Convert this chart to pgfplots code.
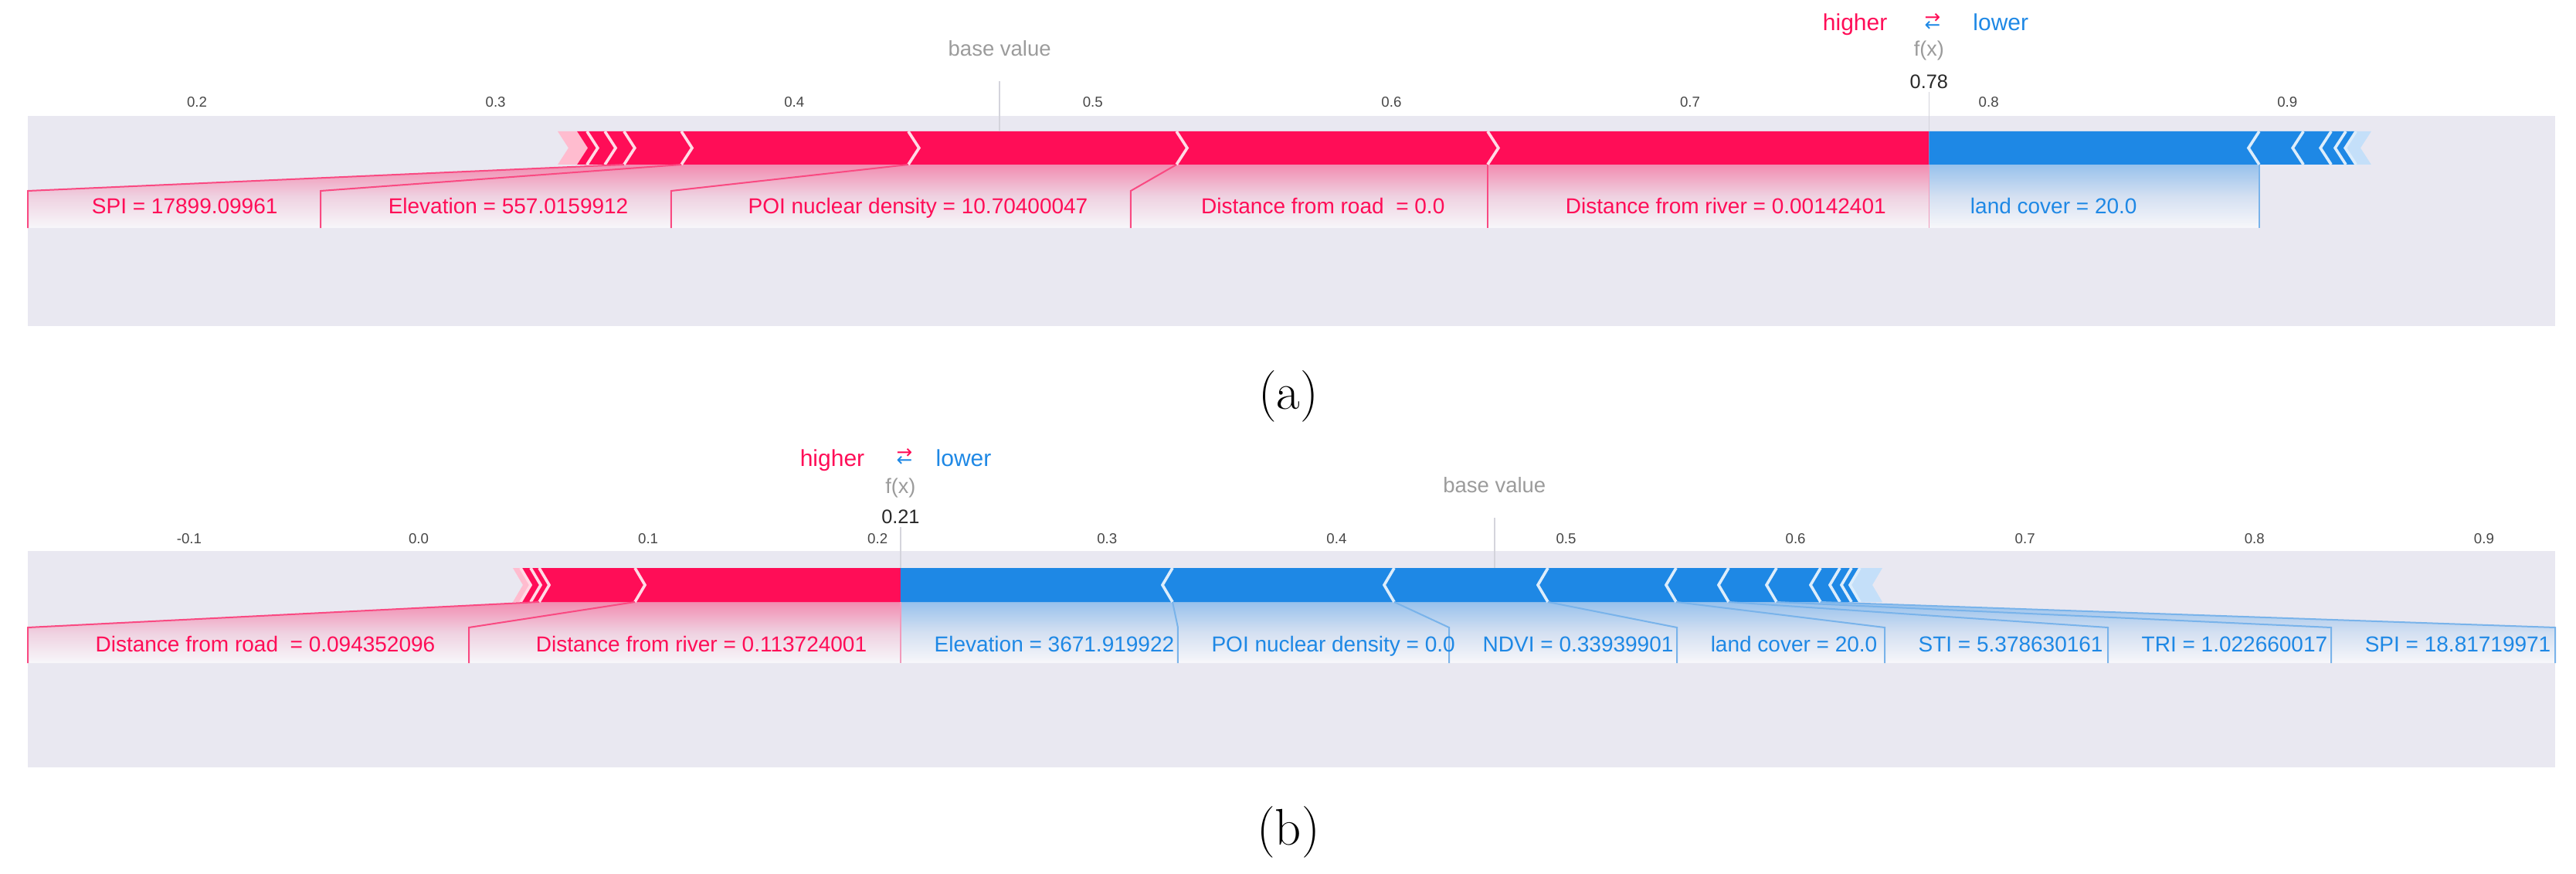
\documentclass[border=0pt]{standalone}
\usepackage{fontspec}
\setsansfont{Liberation Sans}
\newfontfamily\djv{DejaVu Sans}
\usepackage{pgfplots}
\pgfplotsset{compat=1.18}

\definecolor{shapred}{RGB}{255,13,87}
\definecolor{shapblue}{RGB}{30,136,229}
\definecolor{bggrey}{RGB}{233,232,241}
\definecolor{lightpink}{RGB}{255,188,207}
\definecolor{lightblue}{RGB}{196,223,249}
\definecolor{tickgrey}{RGB}{70,70,70}
\definecolor{textgrey}{RGB}{155,155,155}
\definecolor{linegrey}{RGB}{212,212,220}
\definecolor{valgrey}{RGB}{40,40,40}

\newcommand\lab{\sffamily\fontsize{8.4}{10}\selectfont}
\newcommand\arrows{{\djv\fontsize{7.4}{7.4}\selectfont\raisebox{1.5pt}{\color{shapred}→}\llap{\raisebox{-1.5pt}{\color{shapblue}←}}}}

\pgfplotsset{
  forcebase/.style={
    scale only axis, clip=false, y dir=reverse,
    width=981.6pt,
    axis background/.style={fill=bggrey},
    axis line style={draw=none},
    major tick style={draw=none},
    ytick=\empty,
    xticklabel pos=upper,
    xticklabel style={font=\sffamily\fontsize{5.6}{6}\selectfont, text=tickgrey, anchor=base, inner sep=0pt},
  },
  redlab/.style={draw=none, top color=shapred!42!bggrey, bottom color=bggrey!35!white, middle color=shapred!14!bggrey!85!white},
  bluelab/.style={draw=none, top color=shapblue!40!bggrey, bottom color=bggrey!35!white, middle color=shapblue!14!bggrey!85!white},
  redline/.style={shapred!72!bggrey, line width=0.6pt},
  blueline/.style={shapblue!55!bggrey, line width=0.6pt},
  redwhite/.style={white!85!shapred, line width=1.1pt, unbounded coords=jump},
  bluewhite/.style={white!85!shapblue, line width=1.1pt, unbounded coords=jump},
}

\begin{document}
\begin{tikzpicture}
\useasboundingbox (0,0) rectangle (1000.5pt,-339.3pt);

%================ (a) ================
\begin{axis}[forcebase,
  at={(10.8pt,-126.6pt)}, anchor=south west,
  height=81.6pt,
  xmin=0.14335, xmax=0.98970, ymin=150, ymax=422,
  xtick={0.2,0.3,0.4,0.5,0.6,0.7,0.8,0.9},
  xticklabels={0.2,0.3,0.4,0.5,0.6,0.7,0.8,0.9},
  xticklabel style={yshift=3.45pt},
]
% label connectors (red)
\addplot[redlab] coordinates {(0.3430,213)(0.3622,213)(0.2414,247)(0.2414,295)(0.14335,295)(0.14335,247)} -- cycle;
\addplot[redlab] coordinates {(0.3622,213)(0.4382,213)(0.3588,247)(0.3588,295)(0.2414,295)(0.2414,247)} -- cycle;
\addplot[redlab] coordinates {(0.4382,213)(0.5280,213)(0.5127,247)(0.5127,295)(0.3588,295)(0.3588,247)} -- cycle;
\addplot[redlab] coordinates {(0.5280,213)(0.6322,213)(0.6322,247)(0.6322,295)(0.5127,295)(0.5127,247)} -- cycle;
\addplot[redlab] coordinates {(0.6322,213)(0.78,213)(0.78,247)(0.78,295)(0.6322,295)(0.6322,247)} -- cycle;
% label connector (blue)
\addplot[bluelab] coordinates {(0.78,213)(0.8906,213)(0.8906,247)(0.8906,295)(0.78,295)(0.78,247)} -- cycle;

% bars
\addplot[draw=none, fill=lightpink] coordinates {(0.3208,170)(0.3273,170)(0.3309,191.5)(0.3273,213)(0.3208,213)(0.3244,191.5)} -- cycle;
\addplot[draw=none, fill=shapred] coordinates {(0.3273,170)(0.78,170)(0.78,213)(0.3273,213)(0.3309,191.5)} -- cycle;
\addplot[draw=none, fill=shapblue] coordinates {(0.78,170)(0.9230,170)(0.9194,191.5)(0.9230,213)(0.78,213)} -- cycle;
\addplot[draw=none, fill=lightblue] coordinates {(0.9230,170)(0.9281,170)(0.9245,191.5)(0.9281,213)(0.9230,213)(0.9194,191.5)} -- cycle;

% chevron separators
\addplot[redwhite] coordinates {
 (0.3306,170)(0.3342,191.5)(0.3306,213)(0.3306,nan)
 (0.3366,170)(0.3402,191.5)(0.3366,213)(0.3366,nan)
 (0.3430,170)(0.3466,191.5)(0.3430,213)(0.3430,nan)
 (0.3622,170)(0.3658,191.5)(0.3622,213)(0.3622,nan)
 (0.4382,170)(0.4418,191.5)(0.4382,213)(0.4382,nan)
 (0.5280,170)(0.5316,191.5)(0.5280,213)(0.5280,nan)
 (0.6322,170)(0.6358,191.5)(0.6322,213)};
\addplot[bluewhite] coordinates {
 (0.8906,170)(0.8870,191.5)(0.8906,213)(0.8906,nan)
 (0.9054,170)(0.9018,191.5)(0.9054,213)(0.9054,nan)
 (0.9147,170)(0.9111,191.5)(0.9147,213)(0.9147,nan)
 (0.9196,170)(0.9160,191.5)(0.9196,213)(0.9196,nan)
 (0.9230,170)(0.9194,191.5)(0.9230,213)};

% connector edge lines
\addplot[redline] coordinates {(0.14335,295)(0.14335,247)(0.3430,213)};
\addplot[redline] coordinates {(0.2414,295)(0.2414,247)(0.3622,213)};
\addplot[redline] coordinates {(0.3588,295)(0.3588,247)(0.4382,213)};
\addplot[redline] coordinates {(0.5127,295)(0.5127,247)(0.5280,213)};
\addplot[redline] coordinates {(0.6322,295)(0.6322,213)};
\addplot[shapred!35!bggrey, line width=0.4pt] coordinates {(0.78,213)(0.78,295)};
\addplot[blueline] coordinates {(0.8906,295)(0.8906,213)};

% base value and f(x) markers
\addplot[linegrey, line width=0.5pt] coordinates {(0.4688,105)(0.4688,170)};
\addplot[linegrey, line width=0.5pt] coordinates {(0.78,119)(0.78,170)};

% texts
\node[anchor=base east, inner sep=0, font=\lab, text=shapred] at (axis cs:0.2272,276) {SPI = 17899.09961};
\node[anchor=base east, inner sep=0, font=\lab, text=shapred] at (axis cs:0.3446,276) {Elevation = 557.0159912};
\node[anchor=base east, inner sep=0, font=\lab, text=shapred] at (axis cs:0.4985,276) {POI nuclear density = 10.70400047};
\node[anchor=base east, inner sep=0, font=\lab, text=shapred] at (axis cs:0.6180,276) {Distance from road~ = 0.0};
\node[anchor=base east, inner sep=0, font=\lab, text=shapred] at (axis cs:0.7658,276) {Distance from river = 0.00142401};
\node[anchor=base west, inner sep=0, font=\lab, text=shapblue] at (axis cs:0.7937,276) {land cover = 20.0};

\node[anchor=base, inner sep=0, font=\sffamily\fontsize{8.25}{9}\selectfont, text=textgrey] at (axis cs:0.4688,73) {base value};
\node[anchor=base, inner sep=0, font=\sffamily\fontsize{8.1}{9}\selectfont, text=textgrey] at (axis cs:0.78,73) {f(x)};
\node[anchor=base, inner sep=0, font=\sffamily\fontsize{7.6}{8}\selectfont, text=valgrey] at (axis cs:0.78,115) {0.78};
\node[anchor=base east, inner sep=0, font=\sffamily\fontsize{9}{10}\selectfont, text=shapred] at (axis cs:0.7662,40) {higher};
\node[anchor=base west, inner sep=0, font=\sffamily\fontsize{9}{10}\selectfont, text=shapblue] at (axis cs:0.7946,40) {lower};
\node[anchor=center, inner sep=0] at (axis cs:0.7812,29) {\arrows};

\node[anchor=center, inner sep=0, font=\rmfamily\fontsize{20}{24}\selectfont] at (axis cs:0.5655,513) {(a)};
\end{axis}

%================ (b) ================
\begin{axis}[forcebase,
  at={(10.8pt,-297.9pt)}, anchor=south west,
  height=84pt,
  xmin=-0.17031, xmax=0.93100, ymin=713, ymax=993,
  xtick={-0.1,0,0.1,0.2,0.3,0.4,0.5,0.6,0.7,0.8,0.9},
  xticklabels={-0.1,0.0,0.1,0.2,0.3,0.4,0.5,0.6,0.7,0.8,0.9},
  xticklabel style={yshift=3pt},
]
% red connectors
\addplot[redlab] coordinates {(0.05251,779)(0.09424,779)(0.02188,812)(0.02188,858)(-0.17031,858)(-0.17031,812)} -- cycle;
\addplot[redlab] coordinates {(0.09424,779)(0.21,779)(0.21,812)(0.21,858)(0.02188,858)(0.02188,812)} -- cycle;
% blue connectors
\addplot[bluelab] coordinates {(0.21,779)(0.32851,779)(0.33086,812)(0.33086,858)(0.21,858)(0.21,812)} -- cycle;
\addplot[bluelab] coordinates {(0.32851,779)(0.42511,779)(0.44901,812)(0.44901,858)(0.33086,858)(0.33086,812)} -- cycle;
\addplot[bluelab] coordinates {(0.42511,779)(0.49209,779)(0.54830,812)(0.54830,858)(0.44901,858)(0.44901,812)} -- cycle;
\addplot[bluelab] coordinates {(0.49209,779)(0.54796,779)(0.63884,812)(0.63884,858)(0.54830,858)(0.54830,812)} -- cycle;
\addplot[bluelab] coordinates {(0.54796,779)(0.57085,779)(0.73611,812)(0.73611,858)(0.63884,858)(0.63884,812)} -- cycle;
\addplot[bluelab] coordinates {(0.57085,779)(0.59172,779)(0.83339,812)(0.83339,858)(0.73611,858)(0.73611,812)} -- cycle;
\addplot[bluelab] coordinates {(0.59172,779)(0.61091,779)(0.93100,812)(0.93100,858)(0.83339,858)(0.83339,812)} -- cycle;

% bars
\addplot[draw=none, fill=lightpink] coordinates {(0.04106,735)(0.04443,735)(0.04881,757)(0.04443,779)(0.04106,779)(0.04544,757)} -- cycle;
\addplot[draw=none, fill=shapred] coordinates {(0.04443,735)(0.21,735)(0.21,779)(0.04443,779)(0.04881,757)} -- cycle;
\addplot[draw=none, fill=shapblue] coordinates {(0.21,735)(0.62807,735)(0.62369,757)(0.62807,779)(0.21,779)} -- cycle;
\addplot[draw=none, fill=lightblue] coordinates {(0.62807,735)(0.63783,735)(0.63345,757)(0.63783,779)(0.62807,779)(0.62369,757)} -- cycle;

% chevron separators
\addplot[redwhite] coordinates {
 (0.04443,735)(0.04881,757)(0.04443,779)(0.04443,nan)
 (0.04880,735)(0.05318,757)(0.04880,779)(0.04880,nan)
 (0.05251,735)(0.05689,757)(0.05251,779)(0.05251,nan)
 (0.09424,735)(0.09862,757)(0.09424,779)};
\addplot[bluewhite] coordinates {
 (0.32851,735)(0.32413,757)(0.32851,779)(0.32851,nan)
 (0.42511,735)(0.42073,757)(0.42511,779)(0.42511,nan)
 (0.49209,735)(0.48771,757)(0.49209,779)(0.49209,nan)
 (0.54796,735)(0.54358,757)(0.54796,779)(0.54796,nan)
 (0.57085,735)(0.56647,757)(0.57085,779)(0.57085,nan)
 (0.59172,735)(0.58734,757)(0.59172,779)(0.59172,nan)
 (0.61091,735)(0.60653,757)(0.61091,779)(0.61091,nan)
 (0.61932,735)(0.61494,757)(0.61932,779)(0.61932,nan)
 (0.62437,735)(0.61999,757)(0.62437,779)(0.62437,nan)
 (0.62807,735)(0.62369,757)(0.62807,779)};

% connector edge lines
\addplot[redline] coordinates {(-0.17031,858)(-0.17031,812)(0.05251,779)};
\addplot[redline] coordinates {(0.02188,858)(0.02188,812)(0.09424,779)};
\addplot[shapred!35!bggrey, line width=0.4pt] coordinates {(0.21,779)(0.21,858)};
\addplot[blueline] coordinates {(0.33086,858)(0.33086,812)(0.32851,779)};
\addplot[blueline] coordinates {(0.44901,858)(0.44901,812)(0.42511,779)};
\addplot[blueline] coordinates {(0.54830,858)(0.54830,812)(0.49209,779)};
\addplot[blueline] coordinates {(0.63884,858)(0.63884,812)(0.54796,779)};
\addplot[blueline] coordinates {(0.73611,858)(0.73611,812)(0.57085,779)};
\addplot[blueline] coordinates {(0.83339,858)(0.83339,812)(0.59172,779)};
\addplot[blueline] coordinates {(0.93100,858)(0.93100,812)(0.61091,779)};

% base value and f(x) markers
\addplot[linegrey, line width=0.5pt] coordinates {(0.4688,670)(0.4688,735)};
\addplot[linegrey, line width=0.5pt] coordinates {(0.21,682)(0.21,735)};

% texts
\node[anchor=base east, inner sep=0, font=\lab, text=shapred] at (axis cs:0.00741,843.5) {Distance from road~ = 0.094352096};
\node[anchor=base east, inner sep=0, font=\lab, text=shapred] at (axis cs:0.1955,843.5) {Distance from river = 0.113724001};
\node[anchor=base west, inner sep=0, font=\lab, text=shapblue] at (axis cs:0.2245,843.5) {Elevation = 3671.919922};
\node[anchor=base west, inner sep=0, font=\lab, text=shapblue] at (axis cs:0.3453,843.5) {POI nuclear density = 0.0};
\node[anchor=base west, inner sep=0, font=\lab, text=shapblue] at (axis cs:0.4635,843.5) {NDVI = 0.33939901};
\node[anchor=base west, inner sep=0, font=\lab, text=shapblue] at (axis cs:0.5628,843.5) {land cover = 20.0};
\node[anchor=base west, inner sep=0, font=\lab, text=shapblue] at (axis cs:0.6533,843.5) {STI = 5.378630161};
\node[anchor=base west, inner sep=0, font=\lab, text=shapblue] at (axis cs:0.7506,843.5) {TRI = 1.022660017};
\node[anchor=base west, inner sep=0, font=\lab, text=shapblue] at (axis cs:0.8479,843.5) {SPI = 18.81719971};

\node[anchor=base, inner sep=0, font=\sffamily\fontsize{8.25}{9}\selectfont, text=textgrey] at (axis cs:0.4688,637) {base value};
\node[anchor=base, inner sep=0, font=\sffamily\fontsize{8.1}{9}\selectfont, text=textgrey] at (axis cs:0.21,638) {f(x)};
\node[anchor=base, inner sep=0, font=\sffamily\fontsize{7.6}{8}\selectfont, text=valgrey] at (axis cs:0.21,677) {0.21};
\node[anchor=base east, inner sep=0, font=\sffamily\fontsize{9}{10}\selectfont, text=shapred] at (axis cs:0.1945,603) {higher};
\node[anchor=base west, inner sep=0, font=\sffamily\fontsize{9}{10}\selectfont, text=shapblue] at (axis cs:0.2252,603) {lower};
\node[anchor=center, inner sep=0] at (axis cs:0.2117,592) {\arrows};

\node[anchor=center, inner sep=0, font=\rmfamily\fontsize{20}{24}\selectfont] at (axis cs:0.3790,1077) {(b)};
\end{axis}
\end{tikzpicture}
\end{document}
